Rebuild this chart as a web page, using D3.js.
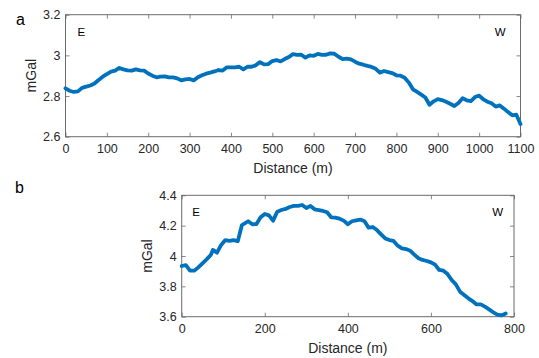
<!DOCTYPE html>
<html>
<head>
<meta charset="utf-8">
<script src="https://cdn.jsdelivr.net/npm/d3@7"></script>
<style>
  html, body { margin: 0; padding: 0; background: #fff; }
  svg { display: block; font-family: "Liberation Sans", Arial, sans-serif; }
</style>
</head>
<body>
<svg id="chart" width="539" height="358"></svg>
<script>
// ---- Panel a data ----
const distA = [0,10,20,30,40,50,60,70,80,90,100,110,120,130,140,150,160,170,180,190,200,210,220,230,240,250,260,270,280,290,300,310,320,330,340,350,360,370,380,390,400,410,420,430,440,450,460,470,480,490,500,510,520,530,540,550,560,570,580,590,600,610,620,630,640,650,660,670,680,690,700,710,720,730,740,750,760,770,780,790,800,810,820,830,840,850,860,870,880,890,900,910,920,930,940,950,960,970,980,990,1000,1010,1020,1030,1040,1050,1060,1070,1080,1090,1100];
const gravA = [2.838,2.826,2.82,2.823,2.84,2.846,2.852,2.862,2.879,2.895,2.908,2.92,2.925,2.938,2.931,2.926,2.925,2.931,2.926,2.925,2.911,2.9,2.892,2.895,2.897,2.892,2.892,2.887,2.877,2.882,2.884,2.877,2.892,2.902,2.91,2.915,2.921,2.928,2.925,2.941,2.941,2.941,2.944,2.931,2.944,2.944,2.951,2.967,2.956,2.957,2.972,2.977,2.97,2.982,2.992,3.006,3.002,3.003,2.989,3.0,2.998,3.007,3.002,3.003,3.01,3.008,2.993,2.982,2.984,2.98,2.969,2.959,2.954,2.948,2.943,2.934,2.915,2.923,2.918,2.913,2.902,2.9,2.89,2.866,2.833,2.82,2.807,2.793,2.757,2.774,2.785,2.78,2.772,2.762,2.751,2.766,2.789,2.779,2.775,2.795,2.802,2.784,2.772,2.764,2.748,2.754,2.738,2.721,2.705,2.708,2.662];
const xTicksA = [0,100,200,300,400,500,600,700,800,900,1000,1100];
const yTicksA = [2.6,2.8,3.0,3.2];

// ---- Panel b data ----
const distB = [0,10,20,30,40,50,60,70,75,85,95,105,115,125,135,145,160,170,180,190,200,210,220,230,240,250,260,270,280,290,300,310,320,330,340,350,360,370,380,390,400,410,420,430,440,450,460,470,480,490,500,510,520,530,540,550,560,570,580,590,600,610,620,630,640,650,660,670,680,690,700,710,720,730,740,750,760,770,775,780];
const gravB = [3.934,3.94,3.903,3.903,3.925,3.952,3.978,4.007,4.04,4.022,4.073,4.105,4.1,4.105,4.097,4.204,4.229,4.209,4.211,4.255,4.277,4.268,4.233,4.292,4.303,4.31,4.323,4.33,4.33,4.336,4.316,4.33,4.308,4.303,4.297,4.288,4.255,4.253,4.246,4.233,4.209,4.229,4.235,4.24,4.229,4.187,4.191,4.171,4.143,4.116,4.105,4.099,4.068,4.051,4.046,4.035,4.009,3.985,3.974,3.967,3.958,3.943,3.908,3.903,3.881,3.842,3.813,3.765,3.743,3.721,3.703,3.681,3.681,3.666,3.648,3.629,3.613,3.609,3.615,3.621];
const xTicksB = [0,200,400,600,800];
const yTicksB = [3.6,3.8,4.0,4.2,4.4];

const panelLabels = ["a","b"];
const xLabel = "Distance (m)";
const yLabel = "mGal";
const dirLabels = ["E","W"];

const svg = d3.select("#chart");
const axisColor = "#6b6b6b";
const textColor = "#262626";
const lineColor = "#0072BD";

function panel(cfg) {
  const x = d3.scaleLinear().domain(cfg.xDomain).range([cfg.left, cfg.right]);
  const y = d3.scaleLinear().domain(cfg.yDomain).range([cfg.bottom, cfg.top]);
  const g = svg.append("g");
  const fmtY = d => d3.format("~g")(d);

  const ax = (axis, tx, ty, labels) => {
    const a = g.append("g").attr("transform", `translate(${tx},${ty})`).call(axis);
    a.select(".domain").remove();
    a.selectAll(".tick line").attr("stroke", axisColor).attr("stroke-width", 0.8);
    a.selectAll(".tick text").attr("fill", textColor).style("font-size", "12.5px")
      .style("font-family", "Liberation Sans, Arial, sans-serif");
    if (!labels) a.selectAll(".tick text").remove();
    return a;
  };
  ax(d3.axisBottom(x).tickValues(cfg.xTicks).tickSizeInner(-4).tickSizeOuter(0).tickPadding(7).tickFormat(d3.format("d")), 0, cfg.bottom, true);
  ax(d3.axisTop(x).tickValues(cfg.xTicks).tickSizeInner(-4).tickSizeOuter(0), 0, cfg.top, false);
  ax(d3.axisLeft(y).tickValues(cfg.yTicks).tickSizeInner(-4).tickSizeOuter(0).tickPadding(5).tickFormat(fmtY), cfg.left, 0, true);
  ax(d3.axisRight(y).tickValues(cfg.yTicks).tickSizeInner(-4).tickSizeOuter(0), cfg.right, 0, false);

  g.append("rect")
    .attr("x", cfg.left).attr("y", cfg.top)
    .attr("width", cfg.right - cfg.left).attr("height", cfg.bottom - cfg.top)
    .attr("fill", "none").attr("stroke", axisColor).attr("stroke-width", 1);

  const line = d3.line().x((d, i) => x(cfg.xs[i])).y(d => y(d));
  g.append("path").datum(cfg.ys)
    .attr("d", line)
    .attr("fill", "none")
    .attr("stroke", lineColor)
    .attr("stroke-width", 3.8)
    .attr("stroke-linejoin", "round")
    .attr("stroke-linecap", "round");

  g.append("text").text(xLabel)
    .attr("x", (cfg.left + cfg.right) / 2).attr("y", cfg.bottom + 36)
    .attr("text-anchor", "middle").attr("fill", textColor)
    .style("font-size", "14px");

  g.append("text").text(yLabel)
    .attr("transform", `translate(${cfg.left - 30},${(cfg.top + cfg.bottom) / 2}) rotate(-90)`)
    .attr("text-anchor", "middle").attr("fill", textColor)
    .style("font-size", "14px");

  g.append("text").text(dirLabels[0])
    .attr("x", cfg.left + cfg.eOff).attr("y", cfg.top + 21)
    .attr("fill", "#000").style("font-size", "11.5px");
  g.append("text").text(dirLabels[1])
    .attr("x", cfg.right - cfg.wOff).attr("y", cfg.top + 21)
    .attr("text-anchor", "end")
    .attr("fill", "#000").style("font-size", "11.5px");

  g.append("text").text(cfg.panelLabel)
    .attr("x", cfg.plx).attr("y", cfg.ply)
    .attr("fill", "#000").style("font-size", "16px");
}

panel({
  xDomain: [0, 1100], yDomain: [2.6, 3.2],
  left: 65.5, right: 520.5, top: 14.7, bottom: 136.7,
  xTicks: xTicksA, yTicks: yTicksA, xs: distA, ys: gravA,
  eOff: 12, wOff: 15, panelLabel: panelLabels[0], plx: 16, ply: 25
});

panel({
  xDomain: [0, 800], yDomain: [3.6, 4.4],
  left: 181.7, right: 514, top: 195.3, bottom: 316.7,
  xTicks: xTicksB, yTicks: yTicksB, xs: distB, ys: gravB,
  eOff: 10.5, wOff: 11, panelLabel: panelLabels[1], plx: 15, ply: 193
});
</script>
</body>
</html>
